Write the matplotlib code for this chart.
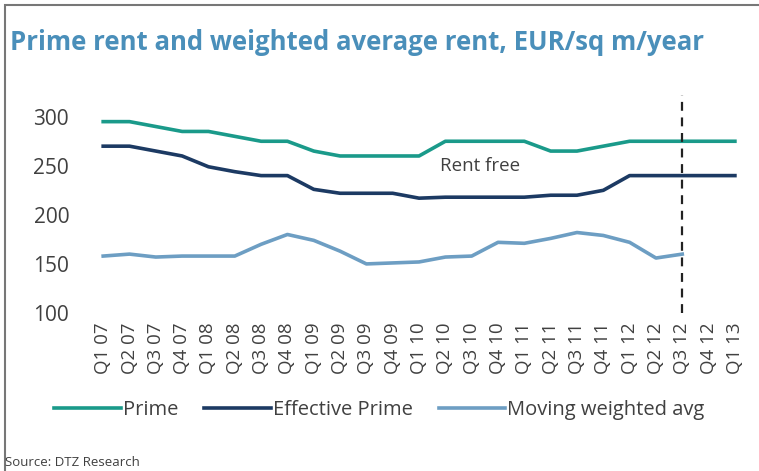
import matplotlib
matplotlib.use("Agg")
import matplotlib.pyplot as plt
from matplotlib.patches import Rectangle

# dane
kwartaly = ["Q1 07", "Q2 07", "Q3 07", "Q4 07", "Q1 08", "Q2 08", "Q3 08", "Q4 08",
            "Q1 09", "Q2 09", "Q3 09", "Q4 09", "Q1 10", "Q2 10", "Q3 10", "Q4 10",
            "Q1 11", "Q2 11", "Q3 11", "Q4 11", "Q1 12", "Q2 12", "Q3 12", "Q4 12",
            "Q1 13"]
prime = [295, 295, 290, 285, 285, 280, 275, 275, 265, 260, 260, 260, 260,
         275, 275, 275, 275, 265, 265, 270, 275, 275, 275, 275, 275]
effective = [270, 270, 265, 260, 249, 244, 240, 240, 226, 222, 222, 222, 217,
             218, 218, 218, 218, 220, 220, 225, 240, 240, 240, 240, 240]
moving_avg = [158, 160, 157, 158, 158, 158, 170, 180, 174, 163, 150, 151, 152,
              157, 158, 172, 171, 176, 182, 179, 172, 156, 160]
granica = "Q3 12"

plt.rcParams["font.family"] = ["Open Sans", "DejaVu Sans"]

fig = plt.figure(figsize=(7.59, 4.71), dpi=100)
ax = fig.add_axes([0.1186, 0.3355, 0.867, 0.4625])

x = list(range(len(kwartaly)))
ax.plot(x, prime, color="#1a9a8a", lw=2.6, label="Prime")
ax.plot(x, effective, color="#1c3a63", lw=2.6, label="Effective Prime")
ax.plot(x[:len(moving_avg)], moving_avg, color="#6d9ec3", lw=2.6,
        label="Moving weighted avg")
ax.axvline(kwartaly.index(granica), color="#222222", lw=1.6, ls=(0, (4, 3)))

ax.text(12.8, 250, "Rent free", fontsize=13.5, color="#404040", va="center")

ax.set_xlim(-0.5, len(kwartaly) - 0.5)
ax.set_ylim(100, 322)
ax.set_yticks([100, 150, 200, 250, 300])
ax.set_xticks(x)
ax.set_xticklabels(kwartaly, rotation=90, fontsize=13.5, color="#404040")
ax.tick_params(axis="y", labelsize=15, labelcolor="#404040", length=0, pad=15)
ax.tick_params(axis="x", length=0, pad=7)
for s in ax.spines.values():
    s.set_visible(False)

fig.legend(loc="center", bbox_to_anchor=(0.5, 0.13), ncol=3, frameon=False,
           fontsize=14.5, handlelength=3.3, handletextpad=0.1, columnspacing=1.3,
           labelcolor="#404040")

fig.text(0.013, 0.91, "Prime rent and weighted average rent, EUR/sq m/year",
         fontsize=18.5, fontweight="bold", color="#4a8fba", va="center")
fig.text(0.006, 0.018, "Source: DTZ Research", fontsize=9.5, color="#404040",
         va="center")

fig.patches.append(Rectangle((0.006, -0.01), 1.5, 1.0, transform=fig.transFigure,
                             fill=False, edgecolor="#777777", lw=1.5))

fig.savefig("out.png", dpi=100)
